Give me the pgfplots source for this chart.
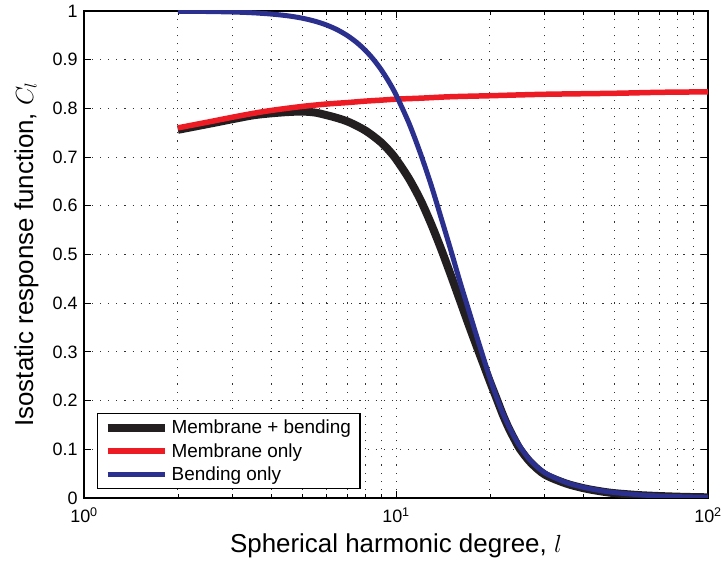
\documentclass[border=0pt]{standalone}
\usepackage{pgfplots}
\pgfplotsset{compat=1.18}
\usepackage{fontspec}
\setmainfont{Liberation Sans}
\definecolor{cblack}{RGB}{35,31,32}
\definecolor{cred}{RGB}{237,28,36}
\definecolor{cblue}{RGB}{43,47,142}
\begin{document}
\begin{tikzpicture}
\begin{axis}[
  scale only axis, width=624bp, height=487bp,
  xmode=log, log basis x=10,
  xmin=1, xmax=100, ymin=0, ymax=1,
  xtick={1,10,100},
  xticklabels={10\textsuperscript{0},10\textsuperscript{1},10\textsuperscript{2}},
  minor xtick={2,3,4,5,6,7,8,9,20,30,40,50,60,70,80,90},
  ytick={0,0.1,0.2,0.3,0.4,0.5,0.6,0.7,0.8,0.9,1},
  /pgf/number format/assume math mode=true,
  grid=both,
  major grid style={black!80, line width=0.9bp, dash pattern=on 1.1bp off 7bp},
  minor grid style={black!80, line width=0.9bp, dash pattern=on 1.1bp off 7bp},
  tick align=inside,
  major tick length=7bp, minor tick length=4bp,
  every tick/.style={black, line width=0.8bp},
  axis line style={black, line width=1.3bp},
  ticklabel style={font=\fontsize{18}{20}\selectfont},
  xticklabel style={yshift=-6bp},
  yticklabel style={xshift=-3bp},
  every axis x label/.style={at={(rel axis cs:0.5,-0.1109)}, anchor=base, font=\fontsize{26}{30}\selectfont},
  every axis y label/.style={at={(rel axis cs:-0.0817,0.5)}, anchor=base, rotate=90, font=\fontsize{26}{30}\selectfont},
  xlabel={Spherical harmonic degree, $l$},
  ylabel={Isostatic response function, $C_l$},
  legend cell align=left,
  legend style={at={(rel axis cs:0.0208,0.0185)}, anchor=south west, draw=black, line width=1.3bp, fill=white,
    font=\fontsize{19}{22}\selectfont, inner xsep=6bp, inner ysep=5bp, row sep=5bp,
    nodes={inner ysep=1.5bp, inner xsep=3bp}},
  legend image code/.code={\draw[#1] (0bp,0bp) -- (57bp,0bp);},
]
\addplot[cblack, line width=8bp, smooth, tension=0.5] coordinates {
(2,0.756) (2.5,0.768) (3,0.778) (3.5,0.786) (4,0.790) (4.5,0.7925) (5,0.7935) (5.5,0.7915)
(6,0.786) (6.5,0.780) (7,0.773) (7.5,0.764) (8,0.754) (8.5,0.742) (9,0.729) (9.5,0.7135)
(10,0.696) (11,0.656) (12,0.6111) (13,0.5608) (14,0.5088) (15,0.4571) (16,0.4073) (17,0.3602)
(18,0.3171) (19,0.2772) (20,0.2392) (21,0.2044) (22,0.171) (23,0.143) (24,0.120) (25,0.100)
(27,0.073) (30,0.048) (35,0.030) (40,0.020) (45,0.014) (50,0.010) (60,0.006) (70,0.004)
(80,0.0027) (90,0.0019) (100,0.0014)
};
\addlegendentry{Membrane + bending}
\addplot[cred, line width=5.5bp, smooth, tension=0.5] coordinates {
(2,0.760) (2.5,0.772) (3,0.782) (3.5,0.790) (4,0.796) (5,0.804) (6,0.809) (7,0.812)
(8,0.815) (9,0.817) (10,0.819) (12,0.821) (15,0.824) (20,0.826) (30,0.829) (50,0.831)
(70,0.833) (100,0.834)
};
\addlegendentry{Membrane only}
\addplot[cblue, line width=5bp, smooth, tension=0.5] coordinates {
(2,0.9995) (2.5,0.9989) (3,0.9979) (3.5,0.9962) (4,0.9936) (4.5,0.9901) (5,0.9853) (5.5,0.9790)
(6,0.9710) (6.5,0.9611) (7,0.9491) (7.5,0.9349) (8,0.9183) (8.5,0.8993) (9,0.8779) (9.5,0.8540)
(10,0.8279) (11,0.770) (12,0.706) (13,0.640) (14,0.572) (15,0.508) (16,0.446) (17,0.391)
(18,0.339) (19,0.291) (20,0.246) (21,0.207) (22,0.174) (23,0.147) (24,0.124) (25,0.105)
(27,0.0764) (30,0.0516) (35,0.0321) (40,0.0217) (45,0.0154) (50,0.0113) (60,0.0066) (70,0.0041)
(80,0.0028) (90,0.0020) (100,0.0014)
};
\addlegendentry{Bending only}
\end{axis}
\pgfresetboundingbox
\path[use as bounding box] ([xshift=-84bp,yshift=-64bp]current axis.south west) rectangle ([xshift=15bp,yshift=11bp]current axis.north east);
\end{tikzpicture}
\end{document}
